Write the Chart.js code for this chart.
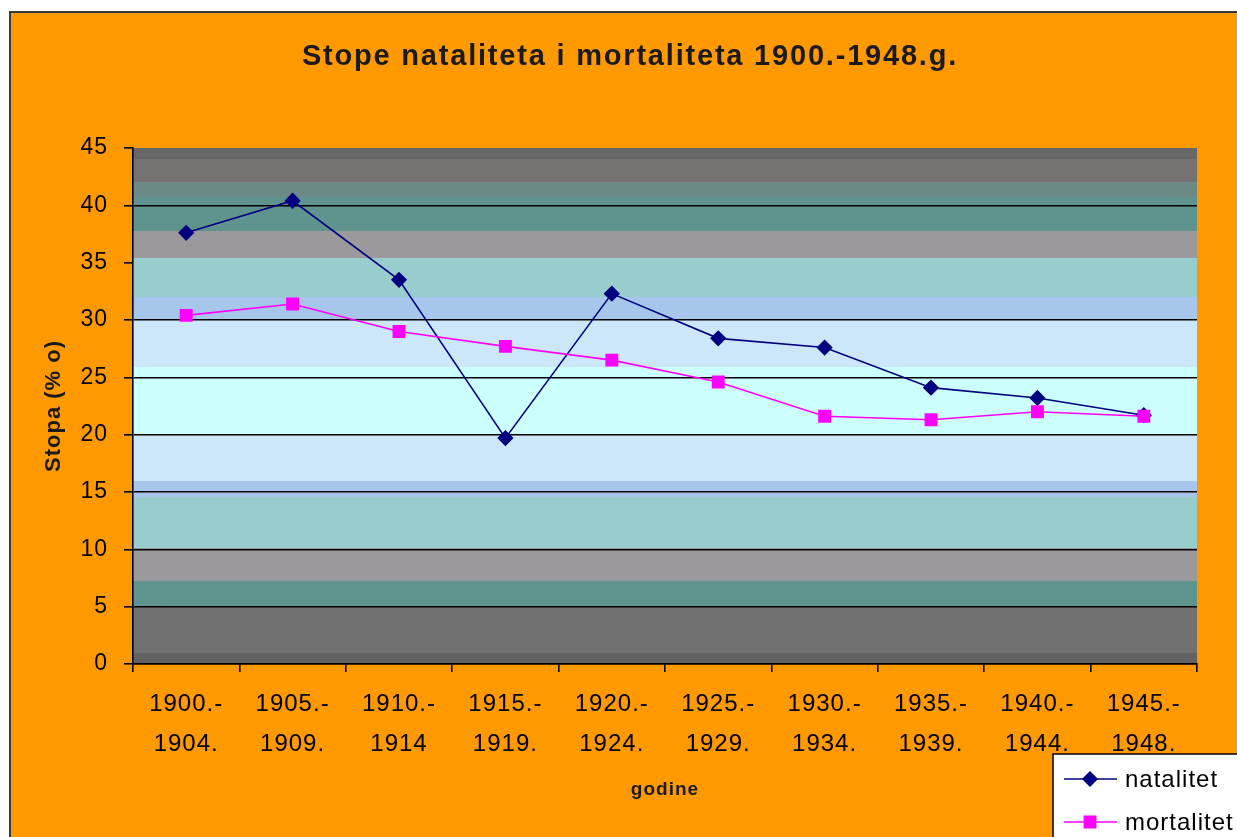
<!DOCTYPE html>
<html>
<head>
<meta charset="utf-8">
<script src="https://cdn.jsdelivr.net/npm/chart.js@4.4.1/dist/chart.umd.min.js"></script>
<style>
  html, body { margin: 0; padding: 0; background: #fff; overflow: hidden; }
  #wrap { width: 1237px; height: 837px; }
</style>
</head>
<body>
<div id="wrap"><canvas id="stope" width="1237" height="837"></canvas></div>
<script>
const periodLabels = [
    ['1900.-', '1904.'], ['1905.-', '1909.'], ['1910.-', '1914'], ['1915.-', '1919.'],
    ['1920.-', '1924.'], ['1925.-', '1929.'], ['1930.-', '1934.'], ['1935.-', '1939.'],
    ['1940.-', '1944.'], ['1945.-', '1948.']
];
const natalitet = [37.6, 40.4, 33.5, 19.7, 32.3, 28.4, 27.6, 24.1, 23.2, 21.7];
const mortalitet = [30.4, 31.4, 29.0, 27.7, 26.5, 24.6, 21.6, 21.3, 22.0, 21.6];
const yTickValues = [0, 5, 10, 15, 20, 25, 30, 35, 40, 45];

const chartTitle = 'Stope nataliteta i mortaliteta 1900.-1948.g.';
const font = "'Liberation Sans', Arial, sans-serif";

// horizontal background stripes of the plot area: [from, to, colour] in axis units
const bands = [
    [0, 1, '#626262'], [1, 5.1, '#717171'], [5.1, 7.2, '#5f948f'], [7.2, 10.1, '#9b999c'],
    [10.1, 14.6, '#99cccc'], [14.6, 16, '#a6c6ec'], [16, 20, '#cce7fa'], [20, 25.9, '#ccffff'],
    [25.9, 30, '#cce7fa'], [30, 32, '#a6c6ec'], [32, 35.4, '#99cccc'], [35.4, 37.8, '#9b999c'],
    [37.8, 40.7, '#5f938e'], [40.7, 42, '#6b8985'], [42, 44, '#777272'], [44, 45, '#676767']
];

const framePlugin = {
    id: 'frame',
    beforeDraw(chart) {
        const ctx = chart.ctx;
        const y = chart.scales.y;
        const area = chart.chartArea;
        ctx.save();
        ctx.fillStyle = '#fff';
        ctx.fillRect(0, 0, chart.width, chart.height);
        ctx.fillStyle = '#ff9900';
        ctx.fillRect(10, 12, chart.width, chart.height);
        ctx.strokeStyle = '#3a3a3a';
        ctx.lineWidth = 2;
        ctx.strokeRect(10, 12, chart.width + 10, chart.height + 10);
        const left = Math.round(area.left);
        const width = Math.round(area.right) - left;
        bands.forEach(b => {
            const top = Math.round(y.getPixelForValue(b[1]));
            const bot = Math.round(y.getPixelForValue(b[0]));
            ctx.fillStyle = b[2];
            ctx.fillRect(left, top, width, bot - top);
        });
        ctx.fillStyle = '#1a1a1a';
        ctx.font = 'bold 29px ' + font;
        ctx.letterSpacing = '1.8px';
        ctx.textAlign = 'center';
        ctx.textBaseline = 'middle';
        ctx.fillText(chartTitle, 630, 57);
        ctx.restore();
        // the original text is slightly spread out
        ctx.letterSpacing = '1px';
    },
    afterDraw(chart) {
        const ctx = chart.ctx;
        ctx.save();
        ctx.fillStyle = '#fff';
        ctx.fillRect(1053, 754, 200, 100);
        ctx.strokeStyle = '#000';
        ctx.lineWidth = 1.5;
        ctx.strokeRect(1053, 754, 200, 100);
        ctx.font = '24px ' + font;
        ctx.letterSpacing = '1px';
        ctx.textBaseline = 'middle';
        [0, 1].forEach(i => {
            const ds = chart.data.datasets[i];
            const ly = 779 + i * 43;
            ctx.strokeStyle = ds.borderColor;
            ctx.lineWidth = 1.5;
            ctx.beginPath();
            ctx.moveTo(1064, ly);
            ctx.lineTo(1117, ly);
            ctx.stroke();
            Chart.helpers.drawPoint(ctx, {pointStyle: ds.pointStyle, radius: ds.pointRadius, borderWidth: 1}, 1090, ly);
            ctx.fillStyle = ds.pointBackgroundColor;
            ctx.fill();
            ctx.fillStyle = '#000';
            ctx.fillText(ds.label, 1125, ly + 1);
        });
        ctx.restore();
    }
};

new Chart(document.getElementById('stope'), {
    type: 'line',
    data: {
        labels: periodLabels,
        datasets: [
            {
                label: 'natalitet',
                data: natalitet,
                borderColor: '#000080',
                backgroundColor: '#000080',
                pointBackgroundColor: '#000080',
                pointBorderColor: '#000080',
                pointStyle: 'rectRot',
                pointRadius: 7,
                borderWidth: 1.6,
                order: 2
            },
            {
                label: 'mortalitet',
                data: mortalitet,
                borderColor: '#ff00ff',
                backgroundColor: '#ff00ff',
                pointBackgroundColor: '#ff00ff',
                pointBorderColor: '#ff00ff',
                pointStyle: 'rect',
                pointRadius: 8,
                borderWidth: 1.6,
                order: 1
            }
        ]
    },
    options: {
        responsive: false,
        animation: false,
        layout: {
            padding: { left: 12, top: 148, right: 40, bottom: 0 }
        },
        plugins: {
            legend: { display: false },
            title: { display: false },
            tooltip: { enabled: false }
        },
        scales: {
            x: {
                offset: true,
                afterFit: s => { s.height = 173; },
                grid: { offset: true, drawOnChartArea: false, tickLength: 8, color: '#000', lineWidth: 1.6 },
                border: { color: '#000', width: 1.6 },
                ticks: {
                    color: '#000',
                    padding: 12,
                    maxRotation: 0,
                    autoSkip: false,
                    font: { family: font, size: 24, lineHeight: 1.67 }
                },
                title: {
                    display: true,
                    text: 'godine',
                    color: '#1a1a1a',
                    font: { family: font, size: 19, weight: 'bold' },
                    padding: { top: 0, bottom: 36 }
                }
            },
            y: {
                min: 0,
                max: 45,
                afterFit: s => { s.width = 121; },
                afterBuildTicks: s => { s.ticks = yTickValues.map(v => ({ value: v })); },
                grid: {
                    color: c => (c.tick && (c.tick.value === 35 || c.tick.value === 45)) ? 'rgba(0,0,0,0)' : '#000',
                    tickColor: '#000',
                    lineWidth: 1.6,
                    tickLength: 9
                },
                border: { color: '#000', width: 1.6 },
                ticks: {
                    color: '#000',
                    padding: 16,
                    font: { family: font, size: 23 }
                },
                title: {
                    display: true,
                    text: 'Stopa (% o)',
                    color: '#1a1a1a',
                    font: { family: font, size: 22, weight: 'bold' },
                    padding: { top: 29, bottom: 0 }
                }
            }
        }
    },
    plugins: [framePlugin]
});
</script>
</body>
</html>
